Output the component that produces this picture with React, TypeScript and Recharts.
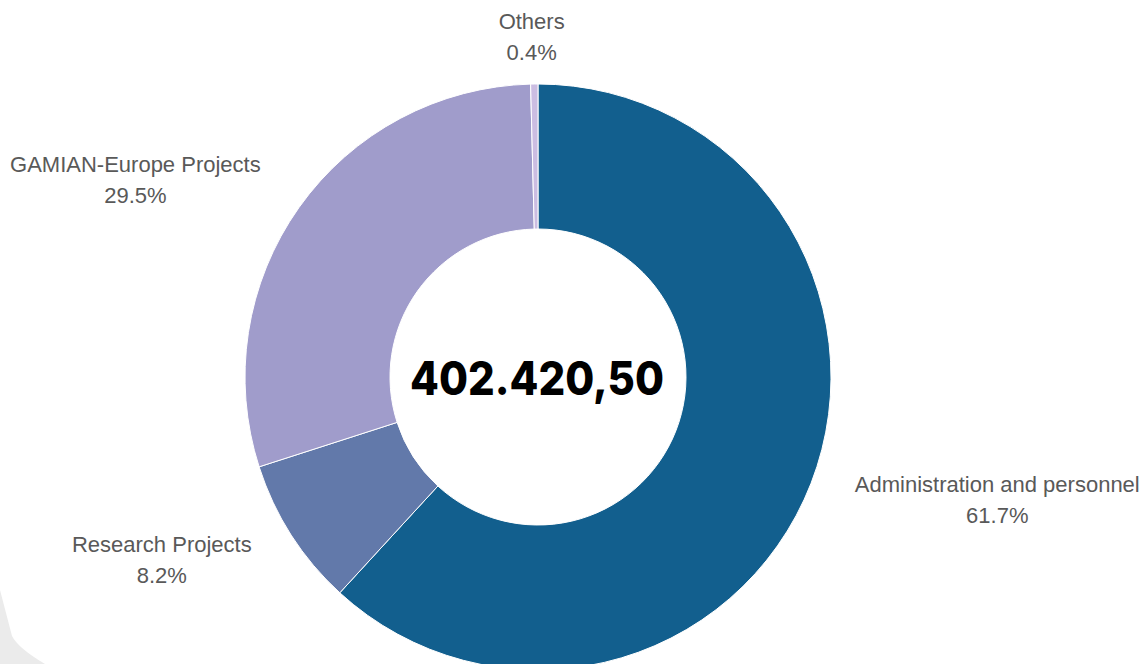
import { PieChart, Pie, Cell } from 'recharts'

const categories = ['Administration and personnel', 'Research Projects', 'GAMIAN-Europe Projects', 'Others']
const shares = [61.7, 8.2, 29.5, 0.4]
const colors = ['#125f8e', '#6279aa', '#a09ccb', '#cbbde2']
const totalLabel = '402.420,50'

const data = categories.map((name, i) => ({ name, value: shares[i] }))

const LABEL_FONT = "22px 'Liberation Sans', Arial, sans-serif"
const RADIAN = Math.PI / 180

let ctx: CanvasRenderingContext2D | null = null
function textWidth(s: string): number {
  if (!ctx) ctx = document.createElement('canvas').getContext('2d')
  if (!ctx) return s.length * 11
  ctx.font = LABEL_FONT
  return ctx.measureText(s).width
}

interface LabelProps {
  cx: number
  cy: number
  midAngle: number
  outerRadius: number
  name: string
  value: number
}

// label block sits outside the ring, pushed sideways so it never overlaps the slice
function SliceLabel({ cx, cy, midAngle, outerRadius, name, value }: LabelProps) {
  const r = outerRadius + 47
  const cos = Math.cos(-midAngle * RADIAN)
  const sin = Math.sin(-midAngle * RADIAN)
  const w = Math.max(textWidth(name), textWidth(`${value}%`))
  const shift = (w / 2) * Math.max(-1, Math.min(1, cos * 5))
  const x = cx + r * cos + shift
  const y = cy + r * sin
  return (
    <text
      x={x}
      y={y}
      textAnchor="middle"
      fill="#595959"
      style={{ font: LABEL_FONT }}
    >
      <tspan x={x} dy={-8}>{name}</tspan>
      <tspan x={x} dy={31}>{`${value}%`}</tspan>
    </text>
  )
}

export default function App() {
  return (
    <div style={{ position: 'absolute', left: 0, top: 0, width: 1144, height: 664, overflow: 'hidden', background: '#fff' }}>
      <svg width={1144} height={664} style={{ position: 'absolute', left: 0, top: 0 }}>
        <path d="M0,590 L12,636 Q18,648 45,664 L0,664 Z" fill="#ebebeb" />
      </svg>
      <div style={{ position: 'absolute', left: 0, top: 0 }}>
        <PieChart width={1144} height={664} margin={{ top: 0, right: 0, bottom: 0, left: 0 }}>
          <Pie
            data={data}
            dataKey="value"
            nameKey="name"
            cx={538}
            cy={377}
            innerRadius={148}
            outerRadius={293}
            startAngle={90}
            endAngle={-270}
            stroke="#ffffff"
            strokeWidth={1}
            labelLine={false}
            label={(p: any) => <SliceLabel {...p} />}
            isAnimationActive={false}
          >
            {data.map((d, i) => (
              <Cell key={d.name} fill={colors[i]} />
            ))}
          </Pie>
          <text
            x={537}
            y={378}
            textAnchor="middle"
            dominantBaseline="central"
            fill="#000"
            style={{ fontFamily: 'Inter, Roboto, sans-serif', fontWeight: 800, fontSize: 46 }}
            textLength={254}
            lengthAdjust="spacingAndGlyphs"
          >
            {totalLabel}
          </text>
        </PieChart>
      </div>
    </div>
  )
}
